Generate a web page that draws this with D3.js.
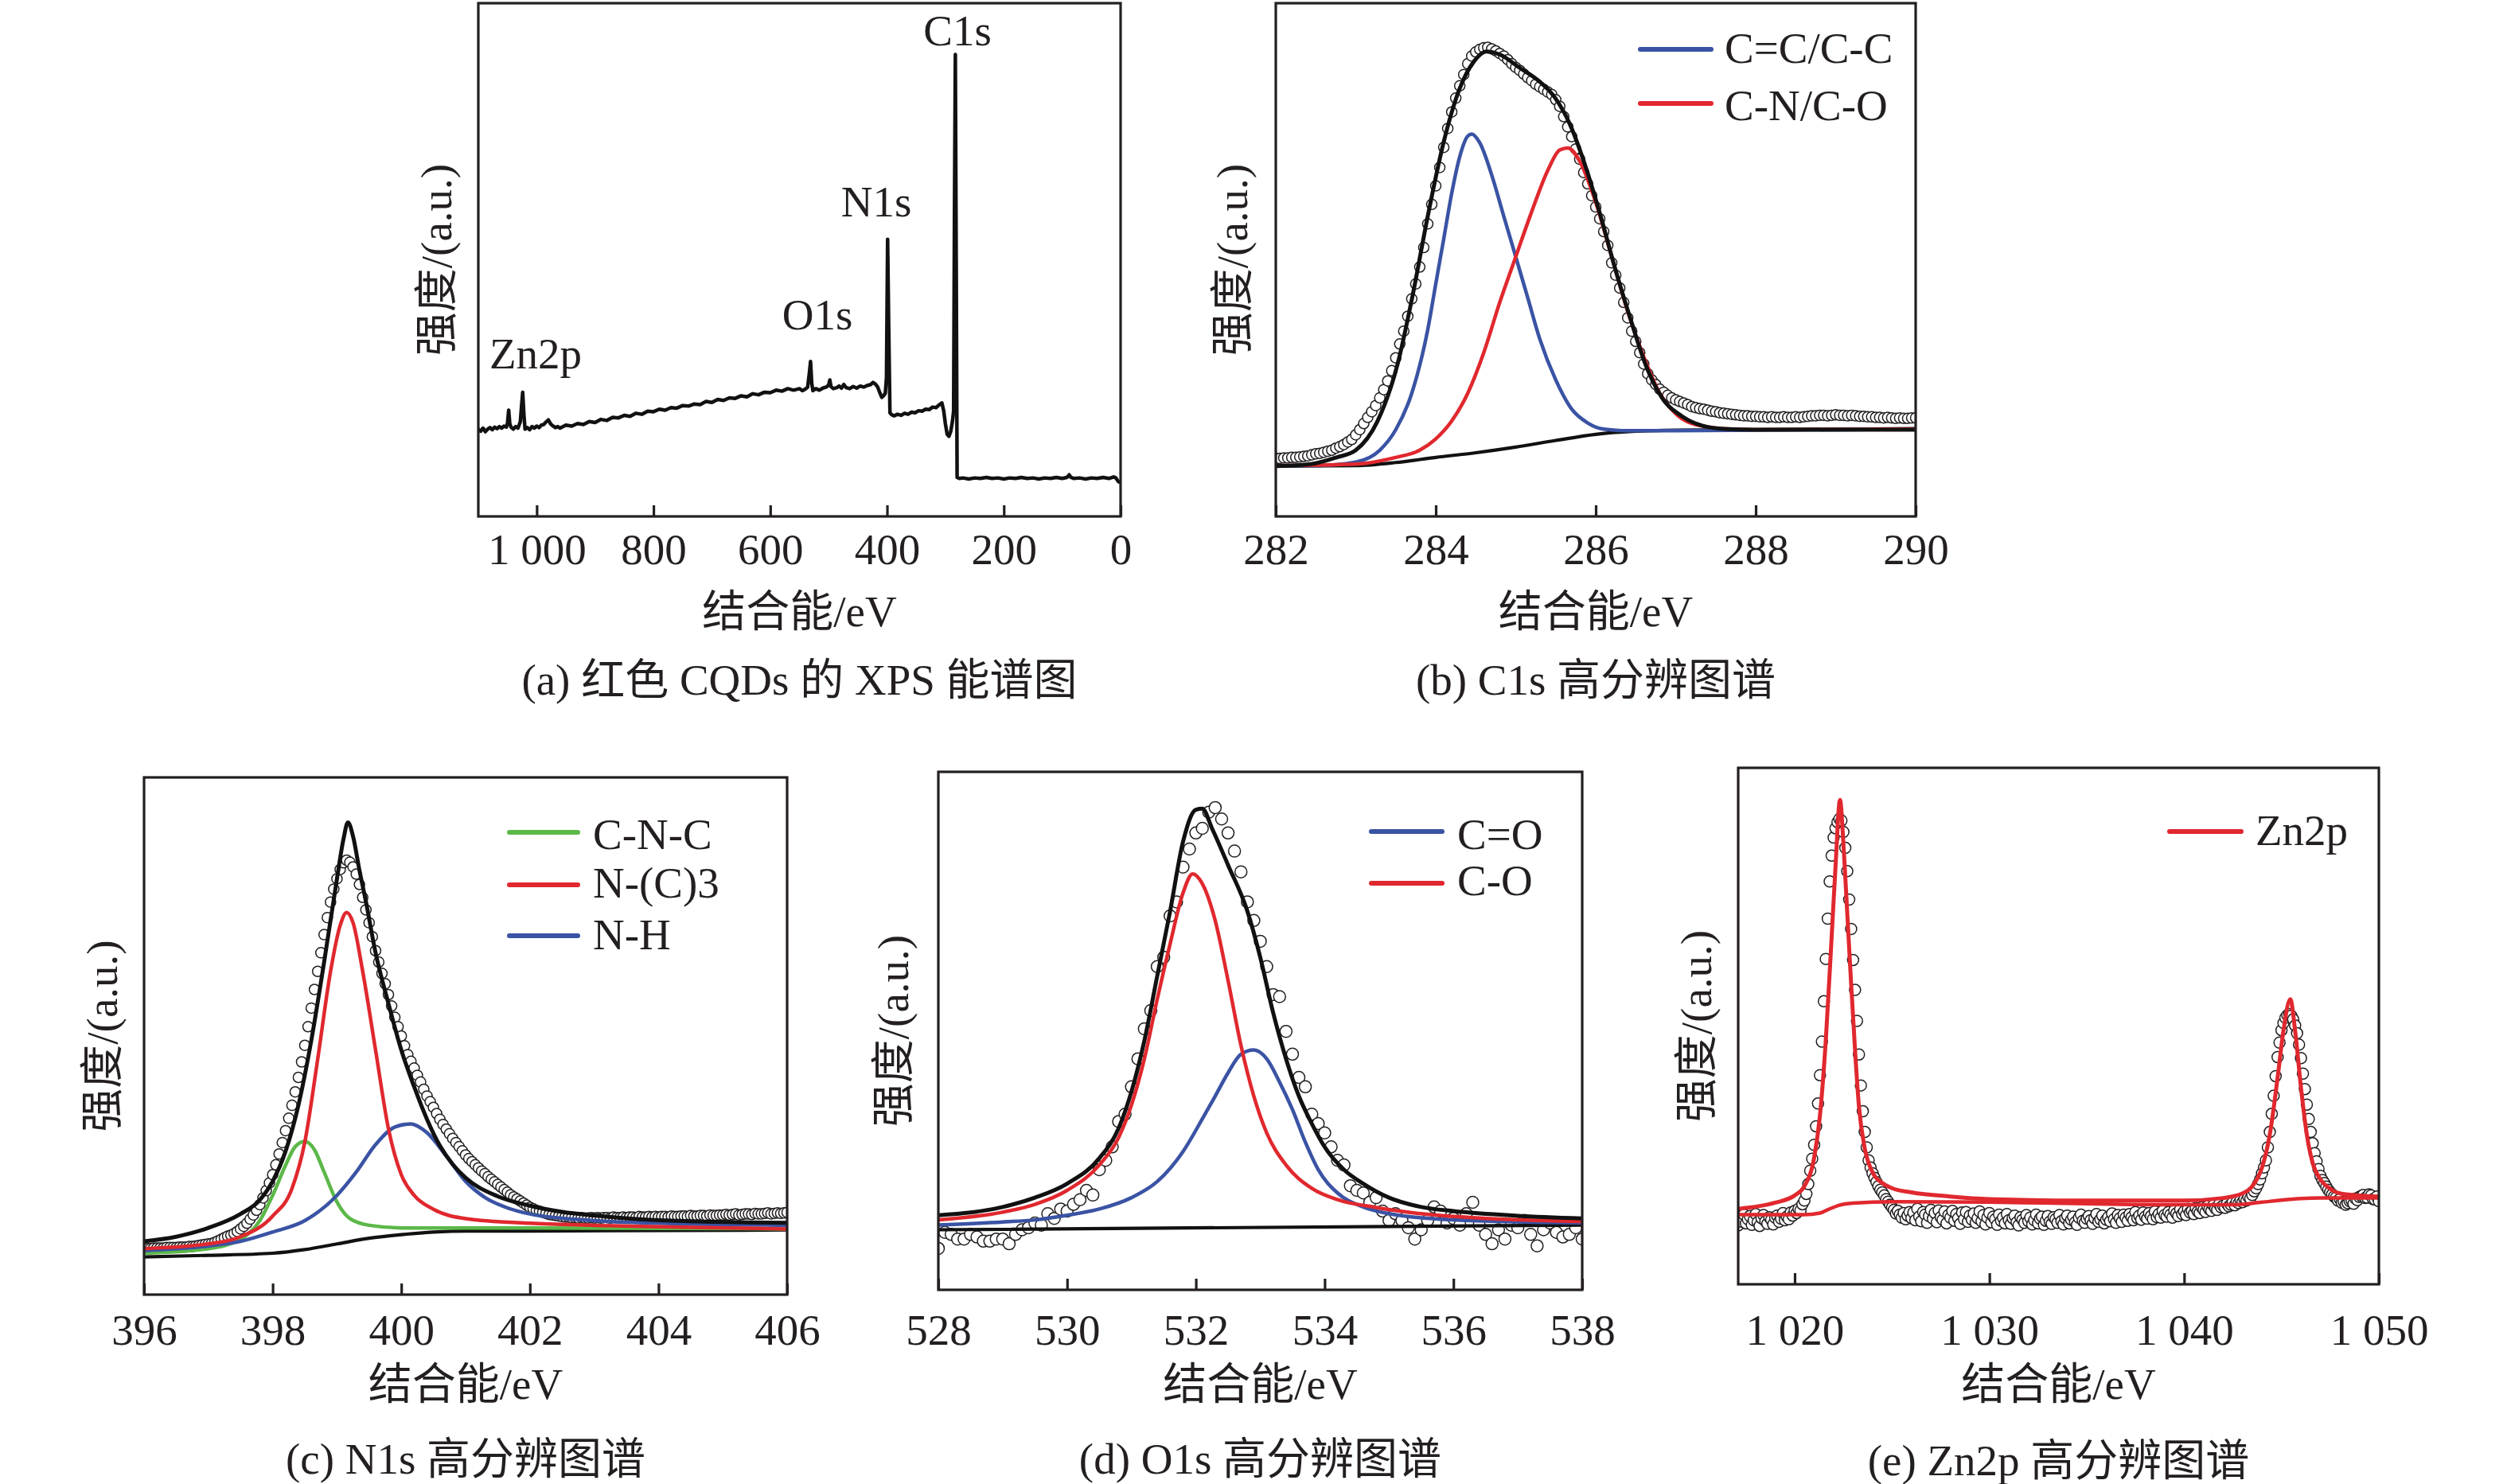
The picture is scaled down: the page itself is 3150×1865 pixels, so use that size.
<!DOCTYPE html>
<html><head><meta charset="utf-8">
<script src="https://cdn.jsdelivr.net/npm/d3@7"></script>
<style>
html,body{margin:0;padding:0;background:#fff;}
svg{display:block;}
</style>
</head><body>
<svg id="chart" width="3150" height="1865"></svg>
<script>
// ---------------- DATA (intensity in arbitrary units, 0 = frame bottom, 100 = frame top) -------------
// (a) survey spectrum [binding energy eV, intensity]
const surveySpectrum = [[1100,17.0],[1096,16.6],[1092,17.2],[1088,16.5],[1084,17.0],[1080,17.3],[1076,16.9],[1072,17.4],[1068,17.1],[1064,17.5],[1060,17.2],[1056,17.6],[1052,17.4],[1050,18.2],[1048,20.7],[1046,18.0],[1044,17.4],[1040,17.0],[1036,17.5],[1032,17.2],[1028,18.5],[1026,21.5],[1024,24.2],[1022,20.0],[1020,17.0],[1016,17.3],[1012,16.9],[1008,17.5],[1004,17.2],[1000,17.6],[996,17.3],[992,17.8],[988,17.9],[984,18.4],[980,18.8],[976,18.0],[972,17.6],[968,17.3],[964,17.5],[960,17.2],[950,17.8],[940,17.6],[930,18.1],[920,17.9],[910,18.5],[900,18.3],[890,18.9],[880,18.7],[870,19.3],[860,19.2],[850,19.7],[840,19.5],[830,20.1],[820,19.9],[810,20.5],[800,20.4],[790,20.9],[780,20.7],[770,21.2],[760,21.1],[750,21.6],[740,21.5],[730,21.9],[720,21.8],[710,22.4],[700,22.2],[690,22.8],[680,22.6],[670,23.1],[660,23.0],[650,23.5],[640,23.3],[630,23.9],[620,23.7],[610,24.2],[600,24.1],[590,24.6],[580,24.4],[570,24.9],[560,24.6],[550,24.9],[545,24.5],[540,24.8],[536,25.2],[533,28.0],[531,30.2],[529,26.0],[527,24.5],[522,24.9],[516,24.6],[510,25.0],[504,25.2],[500,25.6],[498,26.6],[496,25.3],[492,24.9],[486,25.1],[482,25.4],[478,25.0],[474,25.7],[470,25.1],[464,24.9],[458,25.3],[452,25.0],[446,25.4],[440,25.2],[434,25.5],[428,25.7],[424,26.1],[420,25.8],[416,25.2],[412,24.0],[409,23.2],[406,23.5],[403,24.0],[401,27.0],[399,54.0],[397,36.0],[395,20.2],[392,19.8],[388,19.6],[382,19.9],[376,19.7],[370,20.1],[364,19.9],[358,20.3],[352,20.2],[346,20.6],[340,20.5],[334,20.9],[328,20.8],[322,21.3],[316,21.2],[310,21.8],[306,22.1],[303,20.6],[300,18.0],[297,16.0],[294,15.6],[291,16.5],[288,18.5],[286,20.5],[284.5,60.0],[283,90.0],[281.5,50.0],[280,7.6],[276,7.4],[270,7.5],[260,7.3],[250,7.5],[240,7.4],[230,7.6],[220,7.4],[210,7.5],[200,7.3],[190,7.5],[180,7.4],[170,7.6],[160,7.4],[150,7.5],[140,7.3],[130,7.5],[120,7.4],[110,7.6],[100,7.4],[92,7.6],[88,8.1],[85,7.6],[80,7.4],[70,7.5],[60,7.3],[50,7.5],[40,7.4],[30,7.6],[20,7.4],[12,7.7],[8,7.5],[4,6.8],[0,6.6]];
const surveyTicks = [1000, 800, 600, 400, 200, 0];
const surveyTickLabels = ["1 000", "800", "600", "400", "200", "0"];
const surveyPeakLabels = ["C1s", "N1s", "O1s", "Zn2p"];

// (b) C1s
const c1sStart = 282.0, c1sStep = 0.05;
const c1sMeasured = [
11.3,11.3,11.4,11.4,11.5,11.5,11.6,11.7,11.8,12.0,12.2,12.3,12.5,12.7,12.9,13.3,13.6,14.0,14.5,15.0,
15.9,16.9,18.1,19.3,20.4,21.6,23.1,24.7,26.4,28.4,30.9,33.6,36.1,39.0,42.4,45.3,48.6,52.4,57.0,60.8,
64.4,68.0,71.9,75.6,78.8,81.5,83.9,86.1,88.2,89.7,90.5,91.0,91.3,91.4,91.1,90.7,90.2,89.7,89.0,88.2,
87.5,86.9,86.2,85.5,84.9,84.2,83.7,83.2,82.7,82.2,81.2,79.9,77.9,75.9,74.0,71.6,69.6,67.0,64.8,62.5,
60.3,58.0,55.5,52.8,49.4,47.0,44.5,41.7,38.7,36.1,34.1,31.9,29.7,27.8,26.6,25.7,24.8,24.2,23.6,23.1,
22.7,22.4,22.1,21.8,21.4,21.2,21.0,20.9,20.7,20.5,20.4,20.2,20.1,20.0,19.9,19.8,19.7,19.6,19.6,19.5,
19.5,19.4,19.4,19.3,19.4,19.3,19.3,19.4,19.3,19.3,19.4,19.3,19.4,19.5,19.6,19.6,19.7,19.7,19.6,19.7,
19.8,19.7,19.7,19.6,19.7,19.6,19.5,19.5,19.4,19.4,19.3,19.3,19.2,19.3,19.2,19.1,19.2,19.1,19.1,19.2,
19.2];
const c1sEnvelope = [[282,9.8],[282.44,10.2],[282.76,11.5],[283.0,12.9],[283.27,18.5],[283.52,29.5],[283.71,43.0],[283.9,58.5],[284.1,73.0],[284.29,83.0],[284.48,88.7],[284.63,90.6],[284.8,90.0],[285.05,87.4],[285.3,84.7],[285.49,81.6],[285.68,76.3],[285.87,68.3],[286.06,58.6],[286.25,47.9],[286.44,38.2],[286.63,29.3],[286.83,23.1],[287.08,19.5],[287.33,17.7],[287.65,17.0],[287.97,16.9],[289,16.9],[290,16.9]];
const c1sCC = [[282,9.9],[282.5,9.9],[283.0,10.6],[283.3,12.9],[283.5,16.9],[283.7,24.0],[283.9,36.4],[284.0,45.3],[284.1,54.1],[284.2,63.0],[284.3,70.1],[284.4,74.1],[284.45,74.5],[284.55,72.8],[284.7,66.5],[284.85,58.5],[285.0,50.6],[285.15,42.6],[285.3,34.6],[285.5,26.6],[285.7,20.9],[285.9,18.2],[286.1,17.0],[286.4,16.7],[287,16.7],[290,17.0]];
const c1sCNCO = [[282,9.9],[283.0,10.2],[283.5,11.5],[283.8,12.9],[284.0,15.1],[284.2,18.6],[284.4,24.0],[284.6,31.9],[284.8,41.7],[285.0,50.6],[285.2,59.4],[285.4,67.4],[285.55,71.4],[285.65,71.8],[285.8,69.2],[286.0,61.2],[286.2,50.6],[286.4,39.9],[286.6,31.1],[286.8,24.0],[287.0,20.0],[287.3,17.7],[287.7,17.0],[288,16.9],[290,17.0]];
const c1sBackground = [[282,9.8],[283,9.9],[283.5,10.5],[284,11.5],[284.5,12.4],[285,13.5],[285.5,14.8],[286,16.0],[286.5,16.6],[287,16.8],[288,16.9],[290,17.1]];
const c1sTicks = [282, 284, 286, 288, 290];

// (c) N1s
const n1sStart = 396.0, n1sStep = 0.05;
const n1sMeasured = [
8.9,8.9,8.9,9.0,9.0,9.0,9.0,9.1,9.1,9.1,9.1,9.2,9.2,9.2,9.3,9.3,9.4,9.5,9.6,9.7,
9.8,9.9,10.1,10.4,10.7,11.0,11.3,11.5,11.8,12.2,12.7,13.2,13.8,14.6,15.4,16.3,17.4,18.7,20.1,21.6,
23.2,25.1,27.2,29.4,31.7,34.1,36.6,39.2,42.0,45.0,48.2,51.8,55.4,59.0,62.5,66.1,69.6,72.9,75.9,78.4,
80.4,82.2,83.5,84.0,83.6,82.7,81.3,79.3,76.8,74.4,71.9,69.2,66.5,64.3,62.1,60.1,58.0,55.8,53.6,51.8,
50.0,48.1,46.4,45.1,43.8,42.4,41.1,39.7,38.4,37.3,36.2,35.0,33.9,32.9,32.0,31.1,30.2,29.4,28.6,27.8,
27.0,26.3,25.7,25.1,24.5,23.9,23.4,22.8,22.3,21.8,21.3,20.8,20.3,19.8,19.3,18.9,18.5,18.1,17.7,17.3,
16.9,16.6,16.3,16.1,15.9,15.7,15.5,15.4,15.3,15.2,15.1,15.0,15.0,14.9,14.9,14.8,14.9,14.8,14.8,14.9,
14.8,14.9,14.8,14.9,14.9,14.8,15.0,14.9,14.9,15.0,14.9,15.0,15.0,14.9,15.1,15.0,15.0,15.1,15.0,15.1,
15.0,15.1,15.1,15.0,15.2,15.1,15.1,15.2,15.2,15.1,15.3,15.2,15.2,15.3,15.3,15.2,15.4,15.3,15.3,15.4,
15.4,15.5,15.4,15.5,15.6,15.4,15.5,15.6,15.6,15.5,15.7,15.6,15.6,15.7,15.8,15.6,15.7,15.8,15.7,15.8,
15.9];
const n1sEnvelope = [[396,10.3],[396.5,11.2],[397,12.9],[397.5,15.6],[397.8,18.3],[398.0,21.9],[398.2,27.7],[398.4,36.6],[398.6,49.1],[398.8,64.3],[399.0,80.4],[399.1,88.0],[399.17,91.3],[399.25,88.6],[399.35,82.0],[399.45,76.0],[399.6,66.1],[399.8,56.3],[400.0,47.3],[400.2,40.2],[400.4,33.9],[400.6,28.8],[400.8,25.2],[401.0,22.6],[401.5,19.0],[402,17.2],[402.5,16.0],[403,15.3],[404,14.4],[406,13.9]];
const n1sCNC = [[396,8.0],[397,8.9],[397.5,10.7],[397.8,14.3],[398.0,19.2],[398.2,25.0],[398.35,28.6],[398.5,29.6],[398.65,28.0],[398.8,23.7],[399.0,17.9],[399.2,14.7],[399.5,13.4],[400,12.9],[402,12.9],[406,12.7]];
const n1sNC3 = [[396,8.9],[397,9.8],[397.5,11.2],[398,15.2],[398.3,20.5],[398.5,29.5],[398.7,45.5],[398.9,62.5],[399.05,71.4],[399.15,73.9],[399.25,71.9],[399.4,62.5],[399.6,47.3],[399.8,32.1],[400.0,23.2],[400.2,19.2],[400.5,16.5],[401,14.7],[402,13.8],[403,13.4],[406,12.7]];
const n1sNH = [[396,8.5],[397,9.4],[397.5,10.3],[398,12.1],[398.5,14.3],[399,19.2],[399.3,23.7],[399.6,29.0],[399.9,32.4],[400.15,33.0],[400.4,31.3],[400.7,26.8],[401.0,21.9],[401.3,18.8],[401.6,17.0],[402,15.6],[403,14.3],[404,13.8],[406,13.4]];
const n1sBackground = [[396,7.3],[397,7.6],[398,8.0],[398.5,8.7],[399,9.8],[399.5,10.9],[400,11.6],[400.5,12.1],[401,12.3],[402,12.3],[406,12.5]];
const n1sTicks = [396, 398, 400, 402, 404, 406];

// (d) O1s
const o1sStart = 528.0, o1sStep = 0.1;
const o1sMeasured = [
8.0,11.1,10.7,9.8,9.8,10.7,10.2,9.4,9.4,9.8,
9.8,8.9,10.7,11.6,12.0,12.9,12.5,14.7,13.8,15.6,
15.2,16.5,17.4,19.2,18.3,23.2,25.0,27.6,32.5,33.9,
39.2,44.6,50.4,53.9,62.4,64.2,72.2,74.9,81.6,85.1,
88.2,89.1,92.2,93.1,90.9,88.2,84.7,80.7,74.9,71.3,
67.3,62.4,57.0,56.6,49.9,45.5,41.0,39.2,33.9,32.1,
30.3,27.6,25.0,24.1,20.1,19.2,18.7,16.9,17.8,15.2,
13.4,14.7,13.4,12.0,9.8,11.6,13.4,16.0,15.2,12.9,
13.8,12.5,14.7,16.9,12.5,10.7,8.9,11.6,9.8,12.5,
12.0,13.4,10.7,8.5,11.6,12.9,11.1,10.2,10.7,12.0,
9.8];
const o1sEnvelope = [[528,14.4],[529,16.0],[529.5,17.8],[530,20.5],[530.5,25.4],[530.8,31.2],[531.0,38.3],[531.2,48.1],[531.4,60.6],[531.6,73.1],[531.8,86.5],[532.0,92.7],[532.1,92.9],[532.25,89.1],[532.5,82.0],[532.8,73.1],[533.0,64.2],[533.2,53.5],[533.4,44.6],[533.6,37.4],[533.8,32.1],[534.0,27.6],[534.3,23.2],[534.6,20.5],[535.0,17.8],[535.5,16.0],[536,15.2],[537,14.3],[538,13.8]];
const o1sCO2 = [[528,12.5],[529,13.1],[529.5,13.5],[530,14.4],[530.5,15.6],[531,17.8],[531.4,20.9],[531.8,26.7],[532.1,33.0],[532.3,37.4],[532.5,41.9],[532.7,45.5],[532.9,46.3],[533.1,44.6],[533.3,40.1],[533.5,34.8],[533.7,28.5],[533.9,23.2],[534.2,18.7],[534.6,16.0],[535,14.7],[536,13.5],[538,12.9]];
const o1sCO1 = [[528,13.5],[529,15.0],[529.5,16.5],[530,19.2],[530.5,24.1],[530.8,29.4],[531.0,35.7],[531.2,44.6],[531.4,56.1],[531.6,66.8],[531.8,76.6],[531.95,80.3],[532.1,78.4],[532.3,71.3],[532.5,59.7],[532.7,47.2],[532.9,37.4],[533.1,30.3],[533.4,24.1],[533.8,19.6],[534.2,17.4],[534.8,15.9],[535.5,14.7],[536.5,13.8],[538,13.2]];
const o1sBackground = [[528,11.6],[538,12.5]];
const o1sTicks = [528, 530, 532, 534, 536, 538];

// (e) Zn2p
const zn2pStart = 1017.1, zn2pStep = 0.1;
const zn2pMeasured = [
11.4,12.9,12.1,13.5,11.8,12.6,13.2,11.5,12.4,13.6,
12.0,11.3,12.8,13.4,12.2,11.7,13.0,12.5,11.6,12.9,
13.3,12.1,12.7,13.8,12.4,13.1,12.6,13.9,13.3,14.2,
13.8,14.6,14.3,15.5,16.2,17.5,19.4,22.0,24.3,27.0,
30.6,35.0,40.5,47.0,54.8,63.0,70.8,78.0,83.0,86.5,
88.3,89.5,90.1,89.8,87.6,84.5,80.0,74.5,68.8,62.8,
57.0,51.0,44.5,38.5,33.5,29.5,26.5,24.0,22.6,21.5,
20.6,19.8,19.0,18.3,17.8,17.2,16.5,16.0,15.4,14.9,
14.4,13.7,14.2,13.5,12.9,13.8,12.6,13.3,14.0,12.8,
13.9,12.4,14.6,13.1,12.2,14.0,13.5,11.9,13.2,14.4,
12.7,13.8,12.0,14.3,13.0,12.5,14.1,11.8,13.4,12.9,
14.2,12.3,13.6,12.8,11.7,13.9,12.6,14.0,12.1,13.3,
12.5,13.7,11.9,12.8,14.1,12.2,13.4,11.6,12.9,13.8,
12.0,13.1,12.6,11.5,13.5,12.3,12.9,11.8,13.6,12.4,
11.7,12.8,13.3,12.0,11.4,13.0,12.5,11.9,13.4,12.2,
12.9,11.6,12.4,13.5,11.8,12.7,13.1,11.5,12.3,13.2,
12.1,11.7,13.0,12.6,11.9,13.4,12.2,11.6,12.8,13.3,
11.8,12.5,13.1,12.0,11.5,12.9,13.5,12.3,11.9,12.7,
13.2,12.4,11.7,12.8,13.6,12.1,12.6,13.3,11.8,12.5,
13.0,12.2,13.7,12.6,11.9,13.4,12.8,12.1,13.5,12.9,
12.3,13.6,13.0,12.4,14.0,12.8,13.3,12.5,13.9,13.1,
12.7,13.8,13.2,12.6,14.1,13.0,13.6,12.9,14.2,13.4,
13.1,14.0,13.5,12.9,14.3,13.7,13.2,14.5,13.6,14.1,
13.4,14.6,13.9,14.2,13.6,14.8,14.1,13.8,14.9,14.4,
14.0,15.1,14.5,14.2,15.3,14.7,14.4,15.5,14.9,15.2,
14.8,15.6,15.1,15.4,15.9,15.3,16.0,15.7,16.3,15.9,
16.5,16.2,16.9,16.6,17.3,18.0,18.6,19.4,20.3,21.5,
22.6,24.0,26.5,29.5,33.0,36.5,40.3,44.0,46.8,49.2,
50.6,51.6,52.1,52.3,52.0,51.3,50.1,48.6,46.4,43.8,
40.8,37.8,34.8,32.0,29.5,27.3,25.4,23.8,22.3,21.0,
20.2,19.6,18.9,18.3,17.8,17.4,17.0,16.8,16.2,16.5,
15.8,16.0,15.4,15.7,16.1,16.2,15.6,16.6,16.3,16.9,
17.1,17.3,16.7,16.8,17.4,17.2,16.5,16.4,17.0,16.1];
const zn2pFit = [[1017.1,14.6],[1019,15.8],[1020,17.2],[1020.5,19.0],[1021,24.5],[1021.3,32.7],[1021.6,47.3],[1021.9,67.3],[1022.1,81.0],[1022.33,93.8],[1022.5,85.6],[1022.7,71.9],[1022.9,58.2],[1023.1,45.4],[1023.3,34.5],[1023.6,26.3],[1024,21.7],[1024.5,19.6],[1025,18.6],[1026,17.8],[1028,17.0],[1030,16.5],[1035,16.2],[1040,16.2],[1042,16.7],[1043,17.6],[1043.5,19.0],[1044,22.6],[1044.4,29.0],[1044.8,40.0],[1045.1,49.1],[1045.45,55.2],[1045.7,49.1],[1046,38.1],[1046.3,29.0],[1046.6,23.5],[1047,20.3],[1047.5,18.5],[1048,17.6],[1049,17.2],[1050,17.0]];
const zn2pBackground = [[1017.1,13.5],[1020.5,13.5],[1021.3,13.8],[1021.8,14.6],[1022.3,15.3],[1023,15.7],[1025,16.0],[1030,15.9],[1035,15.6],[1040,15.4],[1042.5,15.4],[1044,15.9],[1045,16.3],[1046,16.6],[1047,16.7],[1050,16.7]];
const zn2pTicks = [1020, 1030, 1040, 1050];
const zn2pTickLabels = ["1 020", "1 030", "1 040", "1 050"];

// ---------------- STYLE / LAYOUT -------------
const FONT = '"Liberation Serif","Times New Roman","Noto Sans CJK SC",serif';
const FS = 55;
const INK = '#231f20';
const BLUE = '#3a53a4', RED = '#e0282e', GREEN = '#5cb848', BLACK = '#111111';
const Y_TITLE = '强度/(a.u.)', X_TITLE = '结合能/eV';
const W_COMP = 4.5, W_ENV = 5, W_BG = 4.2;

const svg = d3.select('#chart');
svg.append('rect').attr('width', 3150).attr('height', 1865).attr('fill', '#fff');

function gridPoints(start, step, values) {
  return values.map((v, i) => [+(start + i * step).toFixed(3), v]);
}

function drawPanel(cfg) {
  const x = d3.scaleLinear().domain(cfg.xDomain).range([cfg.x0, cfg.x1]);
  const y = d3.scaleLinear().domain([0, 100]).range([cfg.y1, cfg.y0]);
  const g = svg.append('g');
  const clipId = 'clip-' + cfg.id;
  svg.append('clipPath').attr('id', clipId).append('rect')
    .attr('x', cfg.x0).attr('y', cfg.y0).attr('width', cfg.x1 - cfg.x0).attr('height', cfg.y1 - cfg.y0);
  const plot = g.append('g').attr('clip-path', `url(#${clipId})`);

  if (cfg.points) {
    plot.append('g').selectAll('circle').data(cfg.points).join('circle')
      .attr('cx', d => x(d[0])).attr('cy', d => y(d[1])).attr('r', cfg.r || 7)
      .attr('fill', '#fff').attr('stroke', INK).attr('stroke-width', 1.5);
  }
  const line = d3.line().x(d => x(d[0])).y(d => y(d[1])).curve(cfg.curve || d3.curveMonotoneX);
  cfg.lines.forEach(l => {
    plot.append('path').datum(l.data).attr('d', line).attr('fill', 'none')
      .attr('stroke', l.color).attr('stroke-width', l.width)
      .attr('stroke-linejoin', 'round').attr('stroke-linecap', 'round');
  });

  const axis = d3.axisBottom(x).tickValues(cfg.ticks).tickSize(-14).tickPadding(0)
    .tickFormat((d, i) => cfg.tickLabels ? cfg.tickLabels[i] : String(d));
  const ag = g.append('g').attr('transform', `translate(0,${cfg.y1})`).call(axis);
  ag.select('.domain').remove();
  ag.selectAll('.tick line').attr('stroke', INK).attr('stroke-width', 3.2);
  ag.selectAll('.tick text').attr('y', cfg.tickY - cfg.y1).attr('dy', 0)
    .attr('font-size', FS).attr('font-family', FONT).attr('fill', INK);

  g.append('rect').attr('x', cfg.x0).attr('y', cfg.y0)
    .attr('width', cfg.x1 - cfg.x0).attr('height', cfg.y1 - cfg.y0)
    .attr('fill', 'none').attr('stroke', INK).attr('stroke-width', 3.2);

  const cx = (cfg.x0 + cfg.x1) / 2;
  const txt = (s, xx, yy, size, anchor) => g.append('text').text(s)
    .attr('x', xx).attr('y', yy).attr('font-size', size).attr('font-family', FONT)
    .attr('fill', INK).attr('text-anchor', anchor || 'middle');
  txt(X_TITLE, cx, cfg.titleY, FS);
  txt(cfg.caption, cx, cfg.captionY, FS);
  const yc = (cfg.y0 + cfg.y1) / 2;
  txt(Y_TITLE, cfg.yTitleX, yc, FS).attr('dominant-baseline', 'central')
    .attr('transform', `rotate(-90,${cfg.yTitleX},${yc})`);

  if (cfg.legend) {
    cfg.legend.forEach(item => {
      g.append('line').attr('x1', cfg.legendX0).attr('x2', cfg.legendX1)
        .attr('y1', item.lineY).attr('y2', item.lineY)
        .attr('stroke', item.color).attr('stroke-width', 6).attr('stroke-linecap', 'round');
      txt(item.label, cfg.legendTextX, item.textY, FS, 'start');
    });
  }
  if (cfg.peakLabels) {
    cfg.peakLabels.forEach(p => txt(p.text, p.x, p.y, FS));
  }
  return { x, y };
}

// (a)
drawPanel({
  id: 'a', x0: 601, x1: 1408, y0: 4, y1: 649, xDomain: [1100, 0],
  ticks: surveyTicks, tickLabels: surveyTickLabels, tickY: 709, titleY: 787, captionY: 873, yTitleX: 548,
  caption: '(a) 红色 CQDs 的 XPS 能谱图', curve: d3.curveLinear,
  lines: [{ data: surveySpectrum, color: BLACK, width: 4.5 }],
  peakLabels: [
    { text: surveyPeakLabels[0], x: 1203, y: 57 },
    { text: surveyPeakLabels[1], x: 1101, y: 272 },
    { text: surveyPeakLabels[2], x: 1027, y: 414 },
    { text: surveyPeakLabels[3], x: 673, y: 463 }
  ]
});

// (b)
drawPanel({
  id: 'b', x0: 1603, x1: 2407, y0: 4, y1: 649, xDomain: [282, 290],
  ticks: c1sTicks, tickY: 709, titleY: 787, captionY: 873, yTitleX: 1548,
  caption: '(b) C1s 高分辨图谱', r: 6.5,
  points: gridPoints(c1sStart, c1sStep, c1sMeasured),
  lines: [
    { data: c1sBackground, color: BLACK, width: W_BG },
    { data: c1sCC, color: BLUE, width: W_COMP },
    { data: c1sCNCO, color: RED, width: W_COMP },
    { data: c1sEnvelope, color: BLACK, width: W_ENV }
  ],
  legendX0: 2061, legendX1: 2150, legendTextX: 2167,
  legend: [
    { label: 'C=C/C-C', color: BLUE, lineY: 62, textY: 79 },
    { label: 'C-N/C-O', color: RED, lineY: 130, textY: 151 }
  ]
});

// (c)
drawPanel({
  id: 'c', x0: 181, x1: 989, y0: 977, y1: 1627, xDomain: [396, 406],
  ticks: n1sTicks, tickY: 1690, titleY: 1758, captionY: 1852, yTitleX: 128,
  caption: '(c) N1s 高分辨图谱', r: 6.5,
  points: gridPoints(n1sStart, n1sStep, n1sMeasured),
  lines: [
    { data: n1sBackground, color: BLACK, width: W_BG },
    { data: n1sCNC, color: GREEN, width: W_COMP },
    { data: n1sNH, color: BLUE, width: W_COMP },
    { data: n1sNC3, color: RED, width: W_COMP },
    { data: n1sEnvelope, color: BLACK, width: W_ENV }
  ],
  legendX0: 640, legendX1: 726, legendTextX: 745,
  legend: [
    { label: 'C-N-C', color: GREEN, lineY: 1046, textY: 1067 },
    { label: 'N-(C)3', color: RED, lineY: 1112, textY: 1128 },
    { label: 'N-H', color: BLUE, lineY: 1176, textY: 1193 }
  ]
});

// (d)
drawPanel({
  id: 'd', x0: 1179, x1: 1988, y0: 970, y1: 1621, xDomain: [528, 538],
  ticks: o1sTicks, tickY: 1690, titleY: 1758, captionY: 1852, yTitleX: 1122,
  caption: '(d) O1s 高分辨图谱', r: 7.5,
  points: gridPoints(o1sStart, o1sStep, o1sMeasured),
  lines: [
    { data: o1sBackground, color: BLACK, width: W_BG },
    { data: o1sCO2, color: BLUE, width: W_COMP },
    { data: o1sCO1, color: RED, width: W_COMP },
    { data: o1sEnvelope, color: BLACK, width: W_ENV }
  ],
  legendX0: 1723, legendX1: 1812, legendTextX: 1831,
  legend: [
    { label: 'C=O', color: BLUE, lineY: 1045, textY: 1067 },
    { label: 'C-O', color: RED, lineY: 1110, textY: 1125 }
  ]
});

// (e)
drawPanel({
  id: 'e', x0: 2184, x1: 2989, y0: 965, y1: 1614, xDomain: [1017.1, 1050],
  ticks: zn2pTicks, tickLabels: zn2pTickLabels, tickY: 1690, titleY: 1758, captionY: 1854, yTitleX: 2131,
  caption: '(e) Zn2p 高分辨图谱', r: 7,
  points: gridPoints(zn2pStart, zn2pStep, zn2pMeasured),
  lines: [
    { data: zn2pBackground, color: RED, width: W_COMP },
    { data: zn2pFit, color: RED, width: W_ENV }
  ],
  legendX0: 2726, legendX1: 2816, legendTextX: 2834,
  legend: [
    { label: 'Zn2p', color: RED, lineY: 1045, textY: 1062 }
  ]
});
</script>
</body></html>
